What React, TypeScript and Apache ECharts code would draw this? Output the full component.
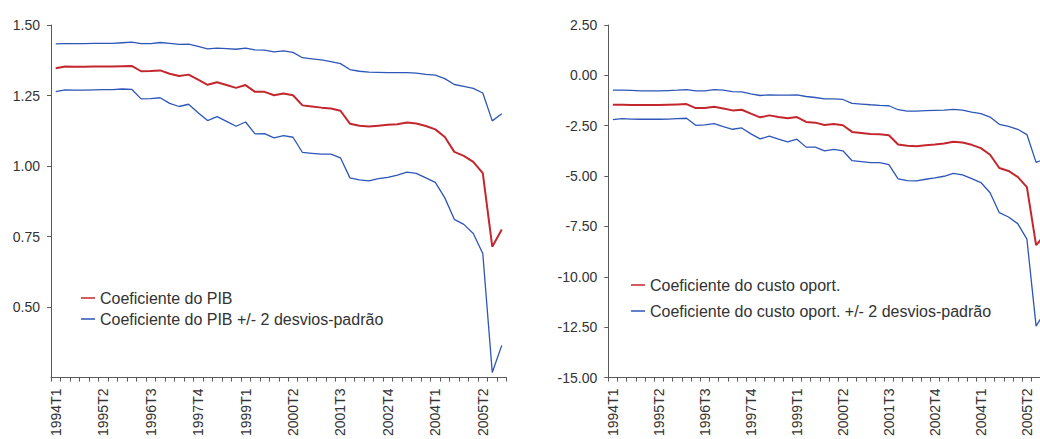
import React, { useEffect, useRef } from "react";
import * as echarts from "echarts";

const categories = [
  "1994T1","1994T2","1994T3","1994T4","1995T1","1995T2","1995T3","1995T4",
  "1996T1","1996T2","1996T3","1996T4","1997T1","1997T2","1997T3","1997T4",
  "1998T1","1998T2","1998T3","1998T4","1999T1","1999T2","1999T3","1999T4",
  "2000T1","2000T2","2000T3","2000T4","2001T1","2001T2","2001T3","2001T4",
  "2002T1","2002T2","2002T3","2002T4","2003T1","2003T2","2003T3","2003T4",
  "2004T1","2004T2","2004T3","2004T4","2005T1","2005T2","2005T3","2005T4",
];

const pibCoef = [
  1.347, 1.353, 1.352, 1.352, 1.353, 1.353, 1.353, 1.354, 1.355, 1.336,
  1.337, 1.339, 1.327, 1.319, 1.324, 1.306, 1.288, 1.297, 1.287, 1.277,
  1.287, 1.263, 1.263, 1.251, 1.257, 1.251, 1.215, 1.211, 1.207, 1.204,
  1.196, 1.15, 1.143, 1.14, 1.143, 1.146, 1.148, 1.154, 1.151, 1.142,
  1.13, 1.103, 1.05, 1.036, 1.015, 0.975, 0.714, 0.775,
];
const pibUpper = [
  1.433, 1.434, 1.434, 1.434, 1.435, 1.435, 1.435, 1.437, 1.439, 1.434,
  1.434, 1.438, 1.435, 1.431, 1.432, 1.424, 1.415, 1.418, 1.416, 1.414,
  1.418, 1.412, 1.411, 1.405, 1.408, 1.403, 1.384, 1.38, 1.376, 1.37,
  1.363, 1.342, 1.336, 1.333, 1.332, 1.331, 1.331, 1.331, 1.329, 1.325,
  1.322, 1.31, 1.289, 1.282, 1.275, 1.259, 1.16, 1.185,
];
const pibLower = [
  1.264, 1.27, 1.269, 1.269, 1.27, 1.271, 1.271, 1.273, 1.272, 1.238,
  1.239, 1.242, 1.222, 1.211, 1.219, 1.189, 1.161, 1.175, 1.158, 1.141,
  1.156, 1.114, 1.115, 1.1, 1.108, 1.102, 1.048, 1.045, 1.042, 1.042,
  1.029, 0.958, 0.951, 0.947, 0.955, 0.96, 0.968, 0.978, 0.974, 0.958,
  0.942, 0.887, 0.811, 0.793, 0.761, 0.69, 0.268, 0.364,
];

const custoCoef = [
  -1.46, -1.46, -1.476, -1.476, -1.476, -1.476, -1.46, -1.444, -1.427, -1.624,
  -1.624, -1.558, -1.641, -1.739, -1.706, -1.903, -2.084, -1.986, -2.068, -2.134,
  -2.068, -2.315, -2.347, -2.462, -2.413, -2.479, -2.808, -2.857, -2.907, -2.922,
  -2.972, -3.432, -3.498, -3.514, -3.465, -3.432, -3.383, -3.301, -3.334, -3.448,
  -3.613, -3.941, -4.599, -4.746, -5.042, -5.551, -8.427, -7.9,
];
const custoUpper = [
  -0.737, -0.737, -0.75, -0.77, -0.77, -0.77, -0.754, -0.737, -0.704, -0.77,
  -0.77, -0.704, -0.737, -0.803, -0.819, -0.918, -1.0, -0.967, -0.984, -0.984,
  -0.967, -1.049, -1.099, -1.164, -1.164, -1.197, -1.394, -1.427, -1.46, -1.493,
  -1.509, -1.706, -1.772, -1.772, -1.755, -1.739, -1.722, -1.69, -1.722, -1.821,
  -1.903, -2.068, -2.43, -2.528, -2.676, -2.939, -4.319, -4.15,
];
const custoLower = [
  -2.199, -2.15, -2.17, -2.18, -2.18, -2.18, -2.17, -2.15, -2.13, -2.479,
  -2.46, -2.397, -2.545, -2.676, -2.61, -2.906, -3.153, -3.021, -3.169, -3.3,
  -3.169, -3.563, -3.563, -3.744, -3.678, -3.744, -4.237, -4.286, -4.335, -4.335,
  -4.433, -5.141, -5.223, -5.239, -5.157, -5.091, -5.009, -4.861, -4.943, -5.124,
  -5.321, -5.83, -6.817, -7.03, -7.359, -8.131, -12.45, -11.7,
];

const pibName = "Coeficiente do PIB";
const pibBandName = "Coeficiente do PIB +/- 2 desvios-padrão";
const custoName = "Coeficiente do custo oport.";
const custoBandName = "Coeficiente do custo oport. +/- 2 desvios-padrão";

const RED = "#c3272d";
const BLUE = "#2d56b8";
const AXIS = "#5a5a5a";
const TEXT = "#333333";
const FONT = "'Liberation Sans', Arial, sans-serif";

export default function App() {
  const ref = useRef<HTMLDivElement>(null);

  useEffect(() => {
    document.body.style.margin = "0";
    if (!ref.current) return;
    const chart = echarts.init(ref.current, undefined, { renderer: "svg" });

    const xAxisBase = (gridIndex: number) => ({
      type: "category" as const,
      gridIndex,
      data: categories,
      boundaryGap: true,
      axisLine: { show: true, onZero: false, lineStyle: { color: AXIS, width: 1 } },
      axisTick: { show: true, interval: 0, length: 4, lineStyle: { color: AXIS } },
      axisLabel: {
        interval: 4,
        rotate: 90,
        margin: 11,
        fontSize: 14,
        fontFamily: FONT,
        color: TEXT,
      },
      splitLine: { show: false },
    });

    const yAxisBase = (gridIndex: number, min: number, max: number, interval: number, showMin: boolean) => ({
      type: "value" as const,
      gridIndex,
      min,
      max,
      interval,
      axisLine: { show: true, onZero: false, lineStyle: { color: AXIS, width: 1 } },
      axisTick: { show: true, length: 4, lineStyle: { color: AXIS } },
      axisLabel: {
        showMinLabel: showMin,
        margin: 11,
        fontSize: 14,
        fontFamily: FONT,
        color: TEXT,
        formatter: (v: number) => v.toFixed(2),
      },
      splitLine: { show: false },
    });

    const line = (name: string, data: number[], color: string, width: number, idx: number) => ({
      type: "line" as const,
      name,
      data,
      xAxisIndex: idx,
      yAxisIndex: idx,
      showSymbol: false,
      symbol: "none",
      lineStyle: { color, width },
      itemStyle: { color },
      emphasis: { disabled: true },
    });

    chart.setOption({
      animation: false,
      textStyle: { fontFamily: FONT },
      grid: [
        { left: 51, top: 25, width: 455.5, height: 355 },
        { left: 608.3, top: 25, width: 441.6, height: 355 },
      ],
      xAxis: [xAxisBase(0), xAxisBase(1)],
      yAxis: [
        yAxisBase(0, 0.25, 1.5, 0.25, false),
        yAxisBase(1, -15, 2.5, 2.5, true),
      ],
      legend: [
        {
          data: [pibName, pibBandName],
          orient: "vertical",
          left: 81,
          top: 290,
          padding: 0,
          itemGap: 5,
          itemWidth: 14,
          itemHeight: 1.5,
          icon: "rect",
          selectedMode: false,
          textStyle: { fontSize: 16, fontFamily: FONT, color: TEXT },
        },
        {
          data: [custoName, custoBandName],
          orient: "vertical",
          left: 631,
          top: 277,
          padding: 0,
          itemGap: 10,
          itemWidth: 14,
          itemHeight: 1.5,
          icon: "rect",
          selectedMode: false,
          textStyle: { fontSize: 16, fontFamily: FONT, color: TEXT },
        },
      ],
      series: [
        line(pibBandName, pibUpper, BLUE, 1.3, 0),
        line(pibBandName, pibLower, BLUE, 1.3, 0),
        line(pibName, pibCoef, RED, 2, 0),
        line(custoBandName, custoUpper, BLUE, 1.3, 1),
        line(custoBandName, custoLower, BLUE, 1.3, 1),
        line(custoName, custoCoef, RED, 2, 1),
      ],
    });

    return () => chart.dispose();
  }, []);

  return (
    <div style={{ width: 1040, height: 439, overflow: "hidden", position: "relative" }}>
      <div ref={ref} style={{ width: 1060, height: 439 }} />
    </div>
  );
}
